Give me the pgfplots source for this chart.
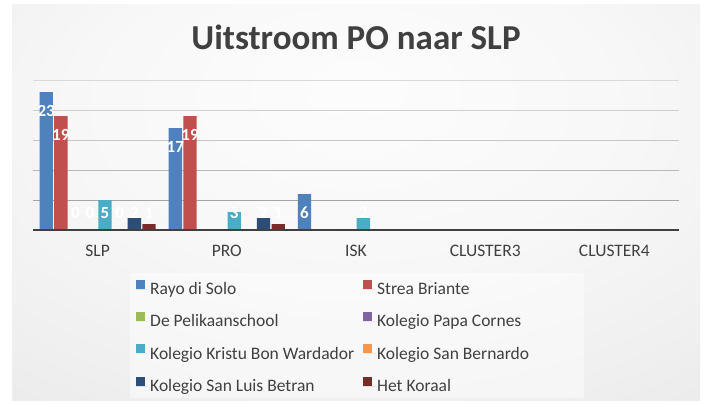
\documentclass[border=0pt]{standalone}
\usepackage{fontspec}
\setmainfont{Carlito}
\usepackage{pgfplots}
\pgfplotsset{compat=1.18}

\definecolor{c1}{HTML}{4F81BD}
\definecolor{c2}{HTML}{C0504D}
\definecolor{c3}{HTML}{9BBB59}
\definecolor{c4}{HTML}{8064A2}
\definecolor{c5}{HTML}{4BACC6}
\definecolor{c6}{HTML}{F79646}
\definecolor{c7}{HTML}{2C4D75}
\definecolor{c8}{HTML}{772C2A}
\definecolor{txt}{HTML}{404040}

\pgfdeclareradialshading{bgshade}{\pgfpoint{0bp}{15bp}}{color(0bp)=(gray!2); color(20bp)=(gray!6); color(35bp)=(gray!12); color(52bp)=(gray!20); color(82bp)=(gray!23); color(95bp)=(gray!24)}

\begin{document}
\begin{tikzpicture}[x=1pt,y=1pt]
\useasboundingbox (0,0) rectangle (708,404);
\fill[white] (0,0) rectangle (708,404);
\shade[shading=bgshade] (12,4) rectangle (700,399);
% legend panel
\fill[white, opacity=0.45] (130,6) rectangle (584,131);
\node[anchor=base, text=txt, font=\fontsize{35}{40}\selectfont\bfseries] at (356,354) {Uitstroom PO naar SLP};

\begin{axis}[
    at={(33pt,174pt)}, anchor=south west,
    scale only axis,
    width=646pt, height=150pt,
    xmin=-0.5, xmax=4.5,
    ymin=0, ymax=25,
    clip=false,
    axis line style={draw=none},
    major tick length=0pt,
    ytick=\empty,
    xtick={0,1,2,3,4},
    xticklabels={SLP,PRO,ISK,CLUSTER3,CLUSTER4},
    xticklabel style={anchor=north, inner sep=0pt, yshift=-15pt, text=txt, font=\fontsize{17.5}{20}\selectfont},
    ybar=1.4pt,
    bar width=13.3pt,
    /pgf/number format/assume math mode=true,
    nodes near coords,
    visualization depends on=y \as \rawy,
    every node near coord/.append style={anchor=center, yshift={max(-19,17-6*\rawy)}, text=white, font=\fontsize{17}{17}\selectfont\bfseries, inner sep=0pt},
    legend columns=2,
    legend cell align=left,
    legend image code/.code={\fill[#1] (0pt,0.5pt) rectangle (9pt,9.5pt); \path (0pt,0pt) -- (12pt,0pt);},
    legend style={at={(0.1595,-0.33)}, anchor=north west, draw=none, fill=none,
        text=txt, font=\fontsize{17.5}{20}\selectfont, inner sep=0pt, row sep=14pt,
        nodes={inner sep=2pt},
        /tikz/every even column/.append style={column sep=7pt}},
]
% gridlines
\draw[gray!30] (axis cs:-0.5,25) -- (axis cs:4.5,25);
\draw[gray!38] (axis cs:-0.5,20) -- (axis cs:4.5,20);
\draw[gray!45] (axis cs:-0.5,15) -- (axis cs:4.5,15);
\draw[gray!55] (axis cs:-0.5,10) -- (axis cs:4.5,10);
\draw[gray!70] (axis cs:-0.5,5) -- (axis cs:4.5,5);

\addplot[fill=c1, draw=none] coordinates {(0,23) (1,17) (2,6)};
\addlegendentry{Rayo di Solo}
\addplot[fill=c2, draw=none] coordinates {(0,19) (1,19)};
\addlegendentry{Strea Briante}
\addplot[fill=c3, draw=none] coordinates {(0,0)};
\addlegendentry{De Pelikaanschool}
\addplot[fill=c4, draw=none] coordinates {(0,0)};
\addlegendentry{Kolegio Papa Cornes}
\addplot[fill=c5, draw=none] coordinates {(0,5) (1,3) (2,2)};
\addlegendentry{Kolegio Kristu Bon Wardador}
\addplot[fill=c6, draw=none] coordinates {(0,0)};
\addlegendentry{Kolegio San Bernardo}
\addplot[fill=c7, draw=none] coordinates {(0,2) (1,2)};
\addlegendentry{Kolegio San Luis Betran}
\addplot[fill=c8, draw=none] coordinates {(0,1) (1,1)};
\addlegendentry{Het Koraal}

% baseline
\draw[black!75, line width=2.5pt] (axis cs:-0.5,0) -- (axis cs:4.5,0);
\end{axis}
\end{tikzpicture}
\end{document}
